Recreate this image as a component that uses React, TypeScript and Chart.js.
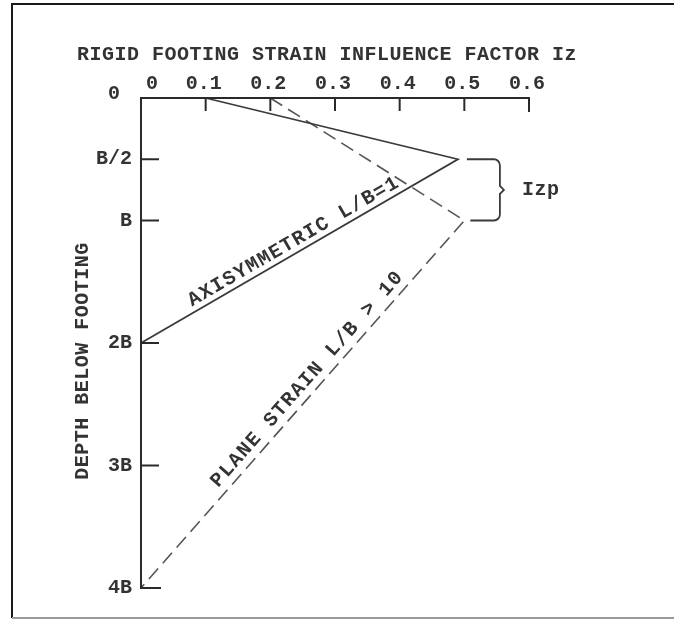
import React, { useEffect, useRef } from "react";
import { Chart, registerables } from "chart.js";

Chart.register(...registerables);

// ---- data ----
const izTicks = [0, 0.1, 0.2, 0.3, 0.4, 0.5, 0.6];
const izTickLabels = ["0", "0.1", "0.2", "0.3", "0.4", "0.5", "0.6"];
const depthTicks = [0, 0.5, 1, 2, 3, 4];
const depthTickLabels = ["0", "B/2", "B", "2B", "3B", "4B"];

// Axisymmetric L/B = 1 (solid)
const axiIz = [0.1, 0.49, 0];
const axiDepth = [0, 0.5, 2];
// Plane strain L/B > 10 (dashed)
const planeIz = [0.2, 0.5, 0];
const planeDepth = [0, 1, 4];

const braceIz = 0.555;
const titleText = "RIGID FOOTING STRAIN INFLUENCE FACTOR Iz";
const yTitleText = "DEPTH BELOW FOOTING";
const axiLabel = "AXISYMMETRIC L/B=1";
const planeLabel = "PLANE STRAIN L/B > 10";
const braceLabel = "Izp";

const FONT = "bold 20px 'Liberation Mono', 'DejaVu Sans Mono', monospace";
const INK = "#333333";

const annotate = {
  id: "annotate",
  beforeDraw(chart: any) {
    const ctx = chart.ctx;
    ctx.save();
    ctx.fillStyle = "#ffffff";
    ctx.fillRect(0, 0, chart.width, chart.height);
    ctx.restore();
  },
  afterDraw(chart: any) {
    const ctx = chart.ctx as CanvasRenderingContext2D;
    const xs = chart.scales.x;
    const ys = chart.scales.y;
    const X = (v: number) => xs.getPixelForValue(v);
    const Y = (v: number) => ys.getPixelForValue(v);
    ctx.save();

    // frame
    ctx.strokeStyle = "#1a1a1a";
    ctx.lineWidth = 2;
    ctx.beginPath();
    ctx.moveTo(12, 618);
    ctx.lineTo(12, 4);
    ctx.lineTo(chart.width, 4);
    ctx.stroke();
    ctx.strokeStyle = "#9a9a9a";
    ctx.beginPath();
    ctx.moveTo(12, 618);
    ctx.lineTo(chart.width, 618);
    ctx.stroke();

    ctx.fillStyle = INK;
    ctx.font = FONT;
    (ctx as any).letterSpacing = "0.5px";
    ctx.textBaseline = "middle";
    ctx.textAlign = "left";
    ctx.fillText(titleText, 77, 55);

    // axes
    ctx.strokeStyle = "#2a2a2a";
    ctx.lineWidth = 2;
    ctx.beginPath();
    ctx.moveTo(X(0.6), Y(0) + 14);
    ctx.lineTo(X(0.6), Y(0));
    ctx.lineTo(X(0), Y(0));
    ctx.lineTo(X(0), Y(4));
    ctx.lineTo(X(0) + 20, Y(4));
    ctx.stroke();

    // x ticks + labels
    (ctx as any).letterSpacing = "0px";
    ctx.textAlign = "center";
    izTicks.forEach((v, i) => {
      const px = X(v);
      if (v > 0 && v < 0.6) {
        ctx.beginPath();
        ctx.moveTo(px, Y(0));
        ctx.lineTo(px, Y(0) + 13);
        ctx.stroke();
      }
      const lx = v === 0 ? px + 11 : px - 2;
      ctx.fillText(izTickLabels[i], lx, 84);
    });

    // y ticks + labels
    ctx.textAlign = "right";
    depthTicks.forEach((v, i) => {
      const py = Y(v);
      if (v > 0 && v < 4) {
        ctx.beginPath();
        ctx.moveTo(X(0), py);
        ctx.lineTo(X(0) + 18, py);
        ctx.stroke();
      }
      if (v === 0) ctx.fillText(depthTickLabels[i], 120, py - 4);
      else ctx.fillText(depthTickLabels[i], 132, py);
    });

    // y title
    ctx.save();
    ctx.translate(83, 361);
    ctx.rotate(-Math.PI / 2);
    ctx.textAlign = "center";
    (ctx as any).letterSpacing = "0.5px";
    ctx.fillText(yTitleText, 0, 0);
    ctx.restore();

    // rotated line labels
    const lineLabel = (
      text: string,
      a: [number, number],
      b: [number, number],
      frac: number,
      off: number
    ) => {
      const x0 = X(a[0]), y0 = Y(a[1]);
      const x1 = X(b[0]), y1 = Y(b[1]);
      const ang = Math.atan2(y1 - y0, x1 - x0);
      const cx = x0 + frac * (x1 - x0) + off * Math.sin(ang);
      const cy = y0 + frac * (y1 - y0) - off * Math.cos(ang);
      ctx.save();
      ctx.translate(cx, cy);
      ctx.rotate(ang);
      ctx.textAlign = "center";
      ctx.textBaseline = "middle";
      (ctx as any).letterSpacing = "1.4px";
      ctx.fillText(text, 0, 0);
      ctx.restore();
    };
    lineLabel(axiLabel, [axiIz[2], axiDepth[2]], [axiIz[1], axiDepth[1]], 0.5, 11);
    lineLabel(planeLabel, [planeIz[2], planeDepth[2]], [planeIz[1], planeDepth[1]], 0.545, 13);

    // brace for Izp
    const xb = X(braceIz);
    const yT = Y(axiDepth[1]);
    const yB = Y(planeDepth[1]);
    const yM = (yT + yB) / 2;
    const r = 6;
    ctx.strokeStyle = "#3a3a3a";
    ctx.lineWidth = 1.8;
    ctx.beginPath();
    ctx.moveTo(X(axiIz[1]) + 9, yT);
    ctx.lineTo(xb - r, yT);
    ctx.arcTo(xb, yT, xb, yT + r, r);
    ctx.lineTo(xb, yM - 4);
    ctx.lineTo(xb + 4, yM);
    ctx.lineTo(xb, yM + 4);
    ctx.lineTo(xb, yB - r);
    ctx.arcTo(xb, yB, xb - r, yB, r);
    ctx.lineTo(X(planeIz[1]) + 6, yB);
    ctx.stroke();

    ctx.textAlign = "left";
    ctx.textBaseline = "middle";
    (ctx as any).letterSpacing = "0.5px";
    ctx.fillText(braceLabel, 522, yM);

    ctx.restore();
  },
};

export default function App() {
  const ref = useRef<HTMLCanvasElement | null>(null);
  useEffect(() => {
    if (!ref.current) return;
    const chart = new Chart(ref.current, {
      type: "scatter",
      data: {
        datasets: [
          {
            label: axiLabel,
            data: axiIz.map((v, i) => ({ x: v, y: axiDepth[i] })),
            showLine: true,
            borderColor: "#3a3a3a",
            borderWidth: 1.8,
            pointRadius: 0,
            clip: false as any,
          },
          {
            label: planeLabel,
            data: planeIz.map((v, i) => ({ x: v, y: planeDepth[i] })),
            showLine: true,
            borderColor: "#555555",
            borderWidth: 1.6,
            borderDash: [14, 7],
            pointRadius: 0,
            clip: false as any,
          },
        ],
      },
      options: {
        animation: false,
        responsive: true,
        maintainAspectRatio: false,
        layout: { padding: { left: 141, right: 145, top: 98, bottom: 31 } },
        plugins: { legend: { display: false }, tooltip: { enabled: false } },
        scales: {
          x: { type: "linear", min: 0, max: 0.6, display: false },
          y: { type: "linear", min: 0, max: 4, reverse: true, display: false },
        },
      },
      plugins: [annotate],
    });
    return () => chart.destroy();
  }, []);
  return (
    <div style={{ position: "absolute", left: 0, top: 0, width: 674, height: 619 }}>
      <canvas ref={ref} />
    </div>
  );
}
